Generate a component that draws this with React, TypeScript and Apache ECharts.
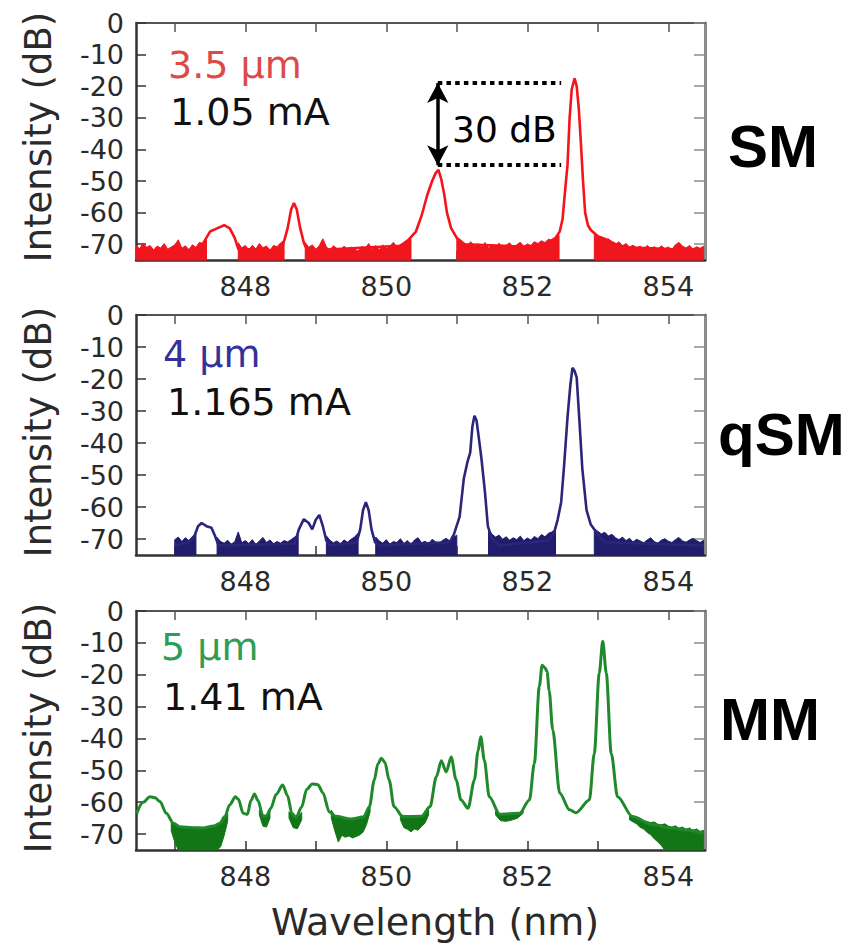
import { useEffect, useRef } from 'react';
import * as echarts from 'echarts';

// Axis ranges and ticks shared by the three spectra
const X_MIN = 846.45;
const X_MAX = 854.52;
const Y_MIN = -75;
const Y_MAX = 0;
const X_TICKS = [847, 848, 849, 850, 851, 852, 853, 854];
const X_LABELS = [848, 850, 852, 854];
const Y_TICKS = [0, -10, -20, -30, -40, -50, -60, -70];

// Panel texts
const apertureLabels = ['3.5 µm', '4 µm', '5 µm'];
const currentLabels = ['1.05 mA', '1.165 mA', '1.41 mA'];
const regimeLabels = ['SM', 'qSM', 'MM'];
const xAxisTitle = 'Wavelength (nm)';
const yAxisTitle = 'Intensity (dB)';
const gapLabel = '30 dB';

// Side-mode suppression markers on the SM spectrum: wavelength span and levels (dB)
const gapSpan = [850.73, 852.48];
const gapLevels = [-19, -45];

// Spectrum traces: [wavelength nm, intensity dB]
const smTrace = [
  [846.45, -72.5], [847.35, -72], [847.42, -69], [847.5, -66], [847.6, -65], [847.7, -64],
  [847.78, -65], [847.85, -68], [847.9, -71.5], [848.5, -72], [848.55, -69], [848.6, -65],
  [848.65, -59], [848.69, -57], [848.73, -59], [848.78, -65], [848.83, -69.5], [848.88, -72],
  [850.2, -70.5], [850.32, -68.5], [850.42, -66], [850.5, -61], [850.58, -54.5], [850.65, -50],
  [850.7, -47.5], [850.74, -46.5], [850.78, -49.5], [850.82, -54], [850.86, -60], [850.92, -65],
  [851.0, -68], [851.1, -70], [852.2, -71], [852.3, -69.5], [852.4, -68], [852.46, -66],
  [852.5, -62], [852.54, -52], [852.57, -45], [852.6, -30], [852.63, -21], [852.67, -17.5],
  [852.7, -20], [852.73, -27], [852.76, -38], [852.79, -50], [852.82, -60], [852.86, -64],
  [852.9, -65.5], [853.0, -67.5], [853.12, -68.5], [853.25, -70], [853.4, -71], [854.5, -72],
];

const qsmTrace = [
  [847.0, -72], [847.2, -71], [847.28, -69], [847.33, -66], [847.38, -65], [847.45, -66],
  [847.52, -66.5], [847.57, -69], [847.62, -72], [848.7, -71.5], [848.76, -67], [848.83, -63.8],
  [848.9, -65], [848.95, -67], [849.0, -64], [849.05, -62.5], [849.1, -66], [849.15, -70.5],
  [849.2, -72], [849.58, -71], [849.63, -67], [849.67, -61], [849.71, -58.5], [849.75, -61],
  [849.79, -67], [849.84, -71], [849.9, -72], [850.9, -71], [850.96, -68.5], [851.04, -63],
  [851.1, -51], [851.15, -46], [851.19, -43], [851.22, -35], [851.25, -31.5], [851.28, -33],
  [851.31, -38], [851.35, -45], [851.4, -55.5], [851.44, -66], [851.5, -70], [851.6, -72],
  [852.3, -70.5], [852.38, -68], [852.43, -64], [852.48, -58.5], [852.52, -47.5], [852.57, -32],
  [852.61, -22], [852.64, -16.5], [852.67, -17.5], [852.7, -19.5], [852.74, -33.5], [852.78, -48],
  [852.84, -61], [852.9, -65.5], [853.0, -68.5], [853.1, -71], [854.5, -72],
];

const mmTrace = [
  [846.46, -63.5], [846.55, -60], [846.65, -58.3], [846.72, -58.6], [846.79, -59.8], [846.88, -63.5],
  [846.98, -66.6], [847.07, -67.7], [847.25, -68], [847.4, -68.1], [847.55, -67.5], [847.64, -66.6],
  [847.71, -64.5], [847.78, -60.8], [847.86, -58.3], [847.9, -59], [847.97, -63.5], [848.03, -63.8],
  [848.08, -59.5], [848.13, -57.4], [848.18, -59.5], [848.25, -64.3], [848.3, -64.3], [848.36, -62],
  [848.44, -57.5], [848.53, -54.6], [848.6, -58], [848.66, -63.5], [848.72, -64.8], [848.8, -61.5],
  [848.87, -56], [848.95, -54.3], [849.03, -54.5], [849.1, -57], [849.19, -63], [849.28, -64.4],
  [849.5, -65.3], [849.68, -64.6], [849.76, -61.4], [849.83, -53], [849.88, -48], [849.93, -46.2],
  [849.98, -47.5], [850.04, -53], [850.11, -61.4], [850.23, -64.5], [850.5, -64.4], [850.62, -61.4],
  [850.71, -52], [850.78, -47], [850.85, -50.5], [850.92, -45.8], [850.99, -53], [851.06, -59.3],
  [851.16, -61.9], [851.25, -53], [851.3, -44], [851.34, -39.5], [851.39, -46.8], [851.46, -58.3],
  [851.61, -63.8], [851.89, -63.5], [852.03, -59.3], [852.1, -47.8], [852.17, -23.7], [852.21, -17],
  [852.25, -17.8], [852.28, -19], [852.31, -25], [852.36, -37.3], [852.46, -57.2], [852.6, -62.4],
  [852.69, -63.3], [852.88, -59.3], [852.95, -44.7], [853.02, -19.5], [853.07, -9.5], [853.12, -19.5],
  [853.19, -44.7], [853.28, -58.3], [853.49, -64.5], [853.77, -67], [854.01, -68], [854.25, -68.7],
  [854.5, -69.7],
];

// Noise floor stretches: sampled every `step` nm from `from`, upper edge in dB (filled down to the axis)
const smFloor = [
  { from: 846.45, step: 0.05, top: [-70.2, -71.5, -69.6, -71, -70.4, -71.8, -70.6, -71.2, -69.8, -71.6, -70.9, -70.2, -68.6, -71.3, -70.5, -71.7, -70.2, -71, -69.4, -69.8, -68.6] },
  { from: 847.9, step: 0.05, top: [-69.5, -71.2, -70.4, -71.8, -70.3, -71.5, -69.8, -71.1, -70.6, -71.9, -70.4, -70.8, -69.6, -68.8] },
  { from: 848.85, step: 0.05, top: [-69.5, -71, -70.2, -71.6, -70.4, -68.3, -70.8, -71.9, -70.5, -71.4, -72, -70.6, -71.7, -70.9, -71.5, -72.2, -70.7, -71.3, -69.8, -71.6, -70.4, -71.8, -70.2, -71.4, -70.6, -69.4, -70.9, -70.1, -69.6, -68.9, -68.2] },
  { from: 851.0, step: 0.05, top: [-67.8, -68.6, -69.5, -70.3, -69.2, -70.6, -69.8, -70.9, -69.5, -71.2, -70.1, -70.8, -69.7, -71, -70.3, -69.6, -70.9, -70.2, -69.4, -70.7, -69.9, -70.4, -69.2, -69.8, -68.9, -69.5, -68.4, -68.8, -67.9, -67.2] },
  { from: 852.95, step: 0.05, top: [-66.5, -67.4, -68, -68.9, -68.3, -69.4, -70.1, -69.2, -70.5, -69.8, -70.9, -70.3, -71.2, -70.6, -71.5, -70.4, -71.3, -70.8, -71.6, -70.5, -71.4, -70.9, -71.7, -70.2, -69.4, -70.6, -71.2, -70.4, -71.5, -70.8, -71.3, -70.6] },
];

const qsmFloor = [
  { from: 847.0, step: 0.05, top: [-70.2, -69.4, -70.8, -69.6, -70.5, -69.2, -68.4] },
  { from: 847.6, step: 0.05, top: [-69.5, -70.8, -71.3, -70.4, -71.6, -70.9, -67.8, -71.2, -70.5, -71.4, -70.2, -71.7, -70.6, -69.5, -71.1, -70.3, -71.5, -70.8, -71.3, -70.5, -70.9, -70.2, -69.4, -68.6] },
  { from: 849.15, step: 0.05, top: [-69, -70.4, -71.2, -70.6, -71.5, -70.3, -71, -70.1, -69.4, -68.2] },
  { from: 849.85, step: 0.05, top: [-69.4, -70.6, -71.3, -70.2, -71.6, -70.8, -71.1, -69.9, -71.4, -70.5, -71.8, -70.3, -69.6, -71.2, -70.7, -71.5, -70.1, -70.9, -71.3, -70.4, -69.8, -70.6, -69.5, -68.8] },
  { from: 851.45, step: 0.05, top: [-67.2, -68.5, -69.4, -68.8, -70.1, -69.3, -70.4, -69.6, -70.2, -69.1, -70.5, -69.7, -70.3, -69.2, -69.9, -68.6, -69.3, -68.2, -67.8, -66.9] },
  { from: 852.95, step: 0.05, top: [-66.8, -67.6, -68.4, -67.9, -69.1, -68.5, -69.6, -70.2, -69.4, -70.5, -69.8, -70.9, -70.1, -70.6, -71.2, -70.3, -69.6, -70.8, -71.3, -70.4, -69.9, -70.7, -71.1, -70.2, -69.5, -70.6, -71, -70.3, -69.8, -70.5, -71.1, -70.4] },
];

// Noise bands of the MM spectrum: [wavelength nm, upper dB, lower dB]
const mmNoise = [
  [[846.95, -66.5, -69], [847.0, -67.2, -72.5], [847.05, -67.5, -75], [847.1, -67.9, -75], [847.15, -67.6, -75], [847.2, -68.2, -75], [847.25, -67.8, -75], [847.3, -68.3, -75], [847.35, -67.9, -75], [847.4, -68.1, -75], [847.45, -67.7, -75], [847.5, -67.9, -75], [847.55, -67.3, -75], [847.6, -67, -75], [847.65, -66.4, -74], [847.7, -65.5, -70.5], [847.75, -63.5, -66]],
  [[848.2, -62.5, -64], [848.25, -64.3, -67.5], [848.3, -64.2, -67.8], [848.35, -62.8, -65]],
  [[848.62, -63, -65], [848.68, -64.6, -68], [848.74, -64.8, -68.3], [848.8, -63.2, -65.5]],
  [[849.22, -62.5, -65], [849.27, -64.2, -69], [849.32, -64.6, -72.5], [849.37, -64.8, -70.4], [849.42, -65.2, -71], [849.47, -65.4, -70.6], [849.52, -65.5, -71.2], [849.57, -65.3, -70.8], [849.62, -65, -70.3], [849.67, -64.5, -69.4], [849.72, -63.3, -67], [849.77, -61.5, -63]],
  [[850.2, -63.6, -65.5], [850.25, -64.4, -68], [850.3, -64.6, -68.5], [850.35, -64.8, -69.3], [850.4, -64.7, -68.4], [850.45, -64.6, -68.8], [850.5, -64.3, -67.6], [850.55, -63.5, -66.5], [850.6, -62.2, -64]],
  [[851.55, -62.8, -64], [851.62, -63.8, -65.8], [851.7, -64, -66], [851.78, -63.9, -65.6], [851.86, -63.6, -65], [851.94, -62.5, -63.5]],
  [[853.45, -64.4, -65.5], [853.5, -64.8, -66.2], [853.55, -65.1, -66.8], [853.6, -65.3, -67.9], [853.65, -65.8, -68.4], [853.7, -66.1, -69.5], [853.75, -66.4, -70.2], [853.8, -66.2, -71.5], [853.85, -66.9, -72.4], [853.9, -67.1, -73.6], [853.95, -66.8, -75], [854.0, -67.5, -75], [854.05, -67.9, -75], [854.1, -67.4, -75], [854.15, -68.2, -75], [854.2, -67.8, -75], [854.25, -68.5, -75], [854.3, -68.1, -75], [854.35, -68.9, -75], [854.4, -68.4, -75], [854.45, -69.2, -75], [854.5, -68.8, -75]],
];

type Floor = { from: number; step: number; top: number[] };
const floorToBand = (f: Floor) =>
  f.top.map((t, i) => [Number((f.from + i * f.step).toFixed(3)), t, Y_MIN]);

// Layout
const GRID_LEFT = 136;
const GRID_WIDTH = 569;
const panelTops = [23, 315, 611];
const panelHeights = [237, 240, 239];
const REG = 'DejaVu Sans';
const BOLD = 'Liberation Sans';

const panels = [
  { trace: smTrace, bands: smFloor.map(floorToBand), line: '#f4141c', fill: '#f0161e', label: '#dc4a4a', width: 2.6, smooth: false },
  { trace: qsmTrace, bands: qsmFloor.map(floorToBand), line: '#2b2679', fill: '#211c6c', label: '#35309a', width: 2.6, smooth: false },
  { trace: mmTrace, bands: mmNoise, line: '#1f8a2c', fill: '#127616', label: '#2e9d55', width: 3, smooth: 0.3 },
];

const textLayout = [
  { apX: 168, apY: 65, curX: 170, curY: 112, regX: 728, regY: 146, titleY: 137 },
  { apX: 163, apY: 354, curX: 167, curY: 402, regX: 718, regY: 434, titleY: 432 },
  { apX: 161, apY: 647, curX: 163, curY: 697, regX: 720, regY: 719, titleY: 728 },
];

function text(x: number, y: number, s: string, size: number, color: string, opts: any = {}) {
  return {
    type: 'text',
    x,
    y,
    rotation: opts.rotation || 0,
    silent: true,
    z: 100,
    style: {
      text: s,
      fontSize: size,
      fontFamily: opts.family || REG,
      fontWeight: opts.weight || 'normal',
      fill: color,
      align: opts.align || 'left',
      verticalAlign: 'middle',
      textAlign: opts.align || 'left',
      textVerticalAlign: 'middle',
    },
  };
}

export default function App() {
  const ref = useRef<HTMLDivElement>(null);

  useEffect(() => {
    if (!ref.current) return;
    const chart = echarts.init(ref.current, undefined, { renderer: 'svg' });

    const tickColor = '#333';
    const xAxes: any[] = [];
    const yAxes: any[] = [];
    const series: any[] = [];

    panels.forEach((p, i) => {
      xAxes.push({
        type: 'value', gridIndex: i, position: 'bottom', min: X_MIN, max: X_MAX,
        axisLine: { show: true, onZero: false, lineStyle: { color: '#333', width: 2.5 } },
        axisTick: { show: true, inside: true, length: 9, customValues: X_TICKS, lineStyle: { color: tickColor, width: 1.5 } },
        axisLabel: { show: true, customValues: X_LABELS, margin: 13, fontFamily: REG, fontSize: 27, color: '#2a2a2a' },
        splitLine: { show: false },
      });
      xAxes.push({
        type: 'value', gridIndex: i, position: 'top', min: X_MIN, max: X_MAX,
        axisLine: { show: true, onZero: false, lineStyle: { color: '#555', width: 2 } },
        axisTick: { show: true, inside: true, length: 9, customValues: X_TICKS, lineStyle: { color: '#555', width: 1.5 } },
        axisLabel: { show: false },
        splitLine: { show: false },
      });
      yAxes.push({
        type: 'value', gridIndex: i, position: 'left', min: Y_MIN, max: Y_MAX,
        axisLine: { show: true, onZero: false, lineStyle: { color: '#333', width: 2.5 } },
        axisTick: { show: true, inside: true, length: 10, customValues: Y_TICKS, lineStyle: { color: tickColor, width: 1.5 } },
        axisLabel: { show: true, customValues: Y_TICKS, margin: 12, fontFamily: REG, fontSize: 27, color: '#2a2a2a' },
        splitLine: { show: false },
      });
      yAxes.push({
        type: 'value', gridIndex: i, position: 'right', min: Y_MIN, max: Y_MAX,
        axisLine: { show: true, onZero: false, lineStyle: { color: '#8c8c8c', width: 3 } },
        axisTick: { show: true, inside: true, length: 11, customValues: Y_TICKS, lineStyle: { color: '#8c8c8c', width: 1.5 } },
        axisLabel: { show: false },
        splitLine: { show: false },
      });

      const bands = p.bands;
      series.push({
        type: 'custom',
        xAxisIndex: 2 * i,
        yAxisIndex: 2 * i,
        coordinateSystem: 'cartesian2d',
        silent: true,
        z: 2,
        encode: { x: 0, y: 1 },
        data: bands.map((b, k) => [b[0][0], b[0][1], k]),
        renderItem: (_params: any, api: any) => {
          const band = bands[api.value(2)];
          const pts: number[][] = [];
          for (const q of band) pts.push(api.coord([q[0], q[1]]));
          for (let k = band.length - 1; k >= 0; k--) pts.push(api.coord([band[k][0], band[k][2]]));
          return {
            type: 'polygon',
            shape: { points: pts },
            style: { fill: p.fill, stroke: p.fill, lineWidth: 1 },
          };
        },
      });

      const line: any = {
        type: 'line',
        xAxisIndex: 2 * i,
        yAxisIndex: 2 * i,
        data: p.trace,
        showSymbol: false,
        symbol: 'none',
        silent: true,
        z: 3,
        smooth: p.smooth,
        smoothMonotone: 'x',
        lineStyle: { color: p.line, width: p.width },
      };
      if (i === 0) {
        const dotted = { color: '#000', width: 4, type: [4.5, 4.2], cap: 'butt' };
        line.markLine = {
          silent: true,
          symbol: 'none',
          label: { show: false },
          data: [
            [{ coord: [gapSpan[0], gapLevels[0]], lineStyle: dotted }, { coord: [gapSpan[1], gapLevels[0]] }],
            [{ coord: [gapSpan[0], gapLevels[1]], lineStyle: dotted }, { coord: [gapSpan[1], gapLevels[1]] }],
            [
              { coord: [gapSpan[0], gapLevels[0]], symbol: 'arrow', symbolSize: [16, 20], lineStyle: { color: '#000', width: 3.5, type: 'solid' } },
              { coord: [gapSpan[0], gapLevels[1]], symbol: 'arrow', symbolSize: [16, 20] },
            ],
          ],
        };
      }
      series.push(line);
    });

    const graphics: any[] = [];
    panels.forEach((p, i) => {
      const t = textLayout[i];
      graphics.push(text(t.apX, t.apY, apertureLabels[i], 38, p.label));
      graphics.push(text(t.curX, t.curY, currentLabels[i], 38, '#111'));
      graphics.push(text(t.regX, t.regY, regimeLabels[i], 60, '#000', { family: BOLD, weight: 'bold' }));
      graphics.push(text(38, t.titleY, yAxisTitle, 37, '#2a2a2a', { rotation: Math.PI / 2, align: 'center' }));
    });
    graphics.push(text(452, 129, gapLabel, 36, '#000'));
    graphics.push(text(435, 922, xAxisTitle, 38, '#2a2a2a', { align: 'center' }));

    chart.setOption({
      animation: false,
      backgroundColor: '#fff',
      grid: panels.map((_, i) => ({ left: GRID_LEFT, top: panelTops[i], width: GRID_WIDTH, height: panelHeights[i] })),
      xAxis: xAxes,
      yAxis: yAxes,
      series,
      graphic: graphics,
    });

    return () => chart.dispose();
  }, []);

  return <div ref={ref} style={{ position: 'fixed', left: 0, top: 0, width: 858, height: 946 }} />;
}
